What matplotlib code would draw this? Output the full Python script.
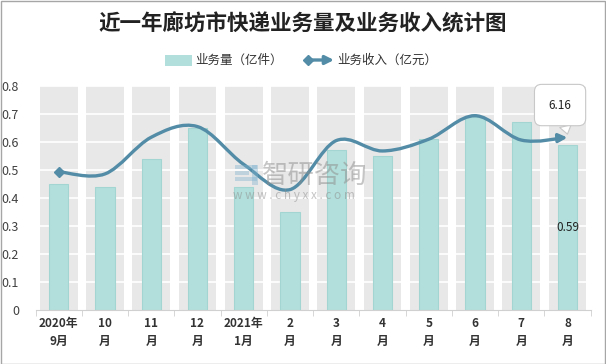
import matplotlib
matplotlib.use("Agg")
import matplotlib.pyplot as plt
from matplotlib.path import Path
from matplotlib.patches import FancyArrowPatch, Rectangle
from matplotlib.lines import Line2D
import numpy as np

plt.rcParams['font.family'] = ['Noto Sans CJK SC', 'DejaVu Sans']

categories = ["2020年\n9月", "10\n月", "11\n月", "12\n月", "2021年\n1月", "2\n月",
              "3\n月", "4\n月", "5\n月", "6\n月", "7\n月", "8\n月"]
volume = [0.45, 0.44, 0.54, 0.65, 0.44, 0.35, 0.57, 0.55, 0.61, 0.69, 0.67, 0.59]
revenue = [4.94, 4.86, 6.17, 6.55, 5.2, 4.3, 6.05, 5.68, 6.1, 6.94, 6.07, 6.16]
yticks = [0, 0.1, 0.2, 0.3, 0.4, 0.5, 0.6, 0.7, 0.8]
title = "近一年廊坊市快递业务量及业务收入统计图"
legend_labels = ["业务量（亿件）", "业务收入（亿元）"]

BAR = "#b2dfdb"
BAR_EDGE = "#a3d6d2"
LINE = "#528ca6"
BAND = "#e8e8e8"

W, H = 606, 364
fig = plt.figure(figsize=(W / 100, H / 100), dpi=100)
fig.patch.set_facecolor("white")

def fx(px):
    return px / W

def fy(py):
    return 1 - py / H

ax = fig.add_axes([fx(35.6), fy(310), fx(590.6) - fx(35.6), fy(86) - fy(310)])
n = len(categories)
x = np.arange(n)

# background bands
ax.bar(x, [0.8] * n, width=0.82, color=BAND, zorder=0)
ax.set_ylim(0, 0.8)
ax.set_xlim(-0.5, n - 0.5)
for t in yticks[1:]:
    ax.axhline(t, color="white", lw=1.2, zorder=1)
ax.bar(x, volume, width=0.42, color=BAR, edgecolor=BAR_EDGE, lw=0.8, zorder=2)

ax.set_yticks(yticks)
ax.set_yticklabels([f"{t:g}" for t in yticks], fontsize=9, color="#404040")
ax.set_xticks(x)
ax.set_xticklabels(categories, fontsize=8.5, fontweight="bold", color="#333333", linespacing=1.55)
ax.set_xticks(np.arange(-0.5, n, 1), minor=True)
ax.tick_params(axis="x", which="major", length=0, pad=5)
ax.tick_params(axis="x", which="minor", length=4, color="#d0d0d0")
ax.tick_params(axis="y", length=0, pad=12)
for s in ["top", "right", "left"]:
    ax.spines[s].set_visible(False)
ax.spines["bottom"].set_color("#d0d0d0")
ax.set_facecolor("white")

# data label on last bar
ax.text(x[-1], volume[-1] / 2, f"{volume[-1]:.2f}", ha="center", va="center", fontsize=8.5,
        color="#222222", zorder=5)

# secondary axis for revenue
ax2 = ax.twinx()
ax2.set_ylim(0, 8)
ax2.set_xlim(-0.5, n - 0.5)
ax2.axis("off")

# smooth curve (Catmull-Rom as cubic Bezier segments)
pts = np.column_stack([x, revenue]).astype(float)
verts = [tuple(pts[0])]
codes = [Path.MOVETO]
for i in range(n - 1):
    p0 = pts[i - 1] if i > 0 else pts[i]
    p1 = pts[i]
    p2 = pts[i + 1]
    p3 = pts[i + 2] if i + 2 < n else pts[i + 1]
    c1 = p1 + (p2 - p0) / 6
    c2 = p2 - (p3 - p1) / 6
    verts += [tuple(c1), tuple(c2), tuple(p2)]
    codes += [Path.CURVE4] * 3
path = Path(verts, codes)
arrow = FancyArrowPatch(path=path, arrowstyle="-|>,head_length=0.5,head_width=0.25",
                        mutation_scale=10, color=LINE, lw=2.4, transform=ax2.transData,
                        zorder=6)
ax2.add_patch(arrow)
ax2.plot([x[0]], [revenue[0]], marker="D", ms=5.5, color=LINE, zorder=7)

# callout
ax2.annotate(f"{revenue[-1]:.2f}", xy=(x[-1], revenue[-1] + 0.12), xytext=(10.84, 7.32),
             ha="center", va="center", fontsize=8.5, color="#222222",
             bbox=dict(boxstyle="round,pad=1.2,rounding_size=0.6", fc="white", ec="#c8c8c8", lw=0.8),
             arrowprops=dict(arrowstyle="wedge,tail_width=1.0,shrink_factor=0.5", fc="white",
                             ec="#c8c8c8", lw=0.8, shrinkA=0, shrinkB=0),
             zorder=8)

# watermark
fig.text(fx(262), fy(175), "智研咨询", fontsize=19, color="#8c8c8c", alpha=0.5,
         ha="left", va="center")
fig.text(fx(233), fy(196), "w w w . c h y x x . c o m", fontsize=8.5, color="#8c8c8c",
         alpha=0.5, ha="left", va="center")
for i, (yy, ww) in enumerate([(165, 22), (171, 14), (177, 22)]):
    fig.add_artist(Rectangle((fx(235), fy(yy + 4)), fx(ww), 4 / H, transform=fig.transFigure,
                             color="#7fb3d0", alpha=0.4, lw=0))
fig.add_artist(Rectangle((fx(252), fy(185)), fx(6), 20 / H, transform=fig.transFigure,
                         color="#7fb3d0", alpha=0.4, lw=0))

# title
fig.text(fx(303), fy(24), title, fontsize=15.5, fontweight="bold", color="#222222",
         ha="center", va="center")

# legend (manual)
ly = 60
fig.add_artist(Rectangle((fx(165), fy(ly + 5.5)), fx(27), 11 / H, transform=fig.transFigure,
                         color=BAR, lw=0))
fig.text(fx(195), fy(ly), legend_labels[0], fontsize=9, color="#333333", ha="left", va="center")
fig.add_artist(FancyArrowPatch((fx(307), fy(ly)), (fx(334), fy(ly)), transform=fig.transFigure,
                               arrowstyle="-|>,head_length=0.5,head_width=0.25", mutation_scale=10,
                               color=LINE, lw=2.4, shrinkA=0, shrinkB=0))
fig.add_artist(Line2D([fx(308)], [fy(ly)], marker="D", ms=5.5, color=LINE, transform=fig.transFigure))
fig.text(fx(337), fy(ly), legend_labels[1], fontsize=9, color="#333333", ha="left", va="center")

# border
fig.add_artist(Rectangle((0.5 / W, 0.5 / H), 1 - 1.5 / W, 1 - 1.5 / H, transform=fig.transFigure,
                         fill=False, ec="#a6a6a6", lw=1))

fig.savefig("out.png", dpi=100)
